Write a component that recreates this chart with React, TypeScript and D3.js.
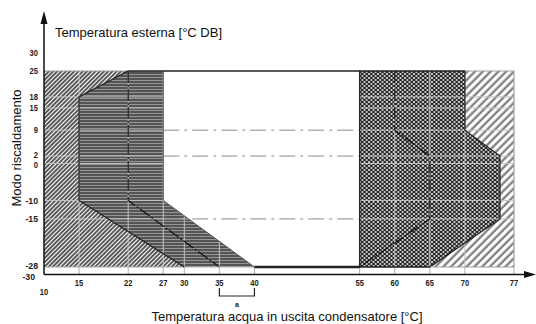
import React from "react";
import * as d3 from "d3";

// ---- data ----
const xTicks = [15, 22, 27, 30, 35, 40, 55, 60, 65, 70, 77];
const yTicks = [30, 25, 18, 15, 9, 2, 0, -10, -15, -28];
const gridY = [18, 15, 9, 2, 0, -10, -15];
const gridX = [15, 22, 27, 30, 35, 40, 60, 65, 70];
// operating envelope regions: [waterTemp, outdoorTemp]
const lowHatch: [number, number][] = [[10, 25], [22, 25], [15, 18], [15, -10], [30, -28], [10, -28]];
const stripeZone: [number, number][] = [[22, 25], [27, 25], [27, -10], [40, -28], [30, -28], [15, -10], [15, 18]];
const crossZone: [number, number][] = [[55, 25], [70, 25], [70, 9], [75, 2], [75, -15], [65, -28], [55, -28]];
const highHatch: [number, number][] = [[70, 25], [77, 25], [77, -28], [65, -28], [75, -15], [75, 2], [70, 9]];
const midLineLeft: [number, number][] = [[22, 25], [22, -10], [35, -28]];
const midLineRight: [number, number][] = [[60, 25], [60, 9], [65, 2], [65, -15], [55, -28]];
const stripeLeftEdge: [number, number][] = [[22, 25], [15, 18], [15, -10], [30, -28]];
const stripeRightEdge: [number, number][] = [[27, 25], [27, -10], [40, -28]];
const dashRefLines = [9, 2, -15];

export default function App() {
  const W = 536, H = 324;
  const x = d3.scaleLinear().domain([10, 77]).range([44, 514]);
  const y = d3.scaleLinear().domain([-28, 25]).range([267, 71]);
  const line = d3.line<[number, number]>().x(d => x(d[0])).y(d => y(d[1]));
  const poly = (p: [number, number][]) => line(p)! + "Z";
  const tickFont = "'Liberation Sans', Arial, sans-serif";
  const txtFont = "'Liberation Sans', Arial, sans-serif";
  const axisY = y(-30);
  const axisX = x(10);
  const tl = (v: number | string) => String(v).length * 4.2;
  const nudge = (v: number) => (v === 2 ? -1.5 : v === 0 ? 1.5 : v === -28 ? -1 : 0);

  return (
    <svg width={W} height={H} style={{ position: "absolute", left: 0, top: 0, background: "#fff" }}>
      <defs>
        <pattern id="hatchL" width="3" height="3" patternUnits="userSpaceOnUse" patternTransform="rotate(45)">
          <rect width="3" height="3" fill="#fff" />
          <line x1="1" y1="0" x2="1" y2="3" stroke="#222" strokeWidth="1.5" />
        </pattern>
        <pattern id="hatchR" width="5.5" height="5.5" patternUnits="userSpaceOnUse" patternTransform="rotate(45)">
          <rect width="5.5" height="5.5" fill="#fff" />
          <line x1="1.5" y1="0" x2="1.5" y2="5.5" stroke="#7a7a7a" strokeWidth="2.2" />
        </pattern>
        <pattern id="stripes" width="4" height="3" patternUnits="userSpaceOnUse">
          <rect width="4" height="3" fill="#969696" />
          <line x1="0" y1="1" x2="4" y2="1" stroke="#303030" strokeWidth="1.3" />
        </pattern>
        <pattern id="cross" width="4.5" height="4" patternUnits="userSpaceOnUse">
          <rect width="4.5" height="4" fill="#f4f4f4" />
          <line x1="0" y1="0" x2="4.5" y2="4" stroke="#1a1a1a" strokeWidth="1.25" />
          <line x1="4.5" y1="0" x2="0" y2="4" stroke="#1a1a1a" strokeWidth="1.25" />
        </pattern>
        <clipPath id="patClip">
          <path d={poly(lowHatch)} />
          <path d={poly(stripeZone)} />
          <path d={poly(crossZone)} />
          <path d={poly(highHatch)} />
        </clipPath>
      </defs>

      {/* regions */}
      <path d={poly(lowHatch)} fill="url(#hatchL)" />
      <path d={poly(stripeZone)} fill="url(#stripes)" />
      <path d={poly(crossZone)} fill="url(#cross)" />
      <path d={poly(highHatch)} fill="url(#hatchR)" />

      {/* light grid visible within patterned areas */}
      <g clipPath="url(#patClip)" stroke="#c4c4c4" strokeWidth={1}>
        {gridY.map(v => (
          <line key={"gy" + v} x1={x(10)} x2={x(77)} y1={y(v)} y2={y(v)} />
        ))}
        {gridX.map(v => (
          <line key={"gx" + v} x1={x(v)} x2={x(v)} y1={y(25)} y2={y(-28)} />
        ))}
      </g>
      {/* short tick lines between -28 and the axis */}
      <g stroke="#b0b0b0" strokeWidth={1}>
        {xTicks.map(v => (
          <line key={"tk" + v} x1={x(v)} x2={x(v)} y1={y(-28)} y2={axisY} />
        ))}
      </g>

      {/* dash-dot reference lines */}
      <g stroke="#8a8a8a" strokeWidth={1} strokeDasharray="16,5,3,5" fill="none">
        {dashRefLines.map(v => (
          <line key={"dr" + v} x1={x(27)} x2={x(55)} y1={y(v)} y2={y(v)} />
        ))}
      </g>
      <path d={line(midLineLeft)!} fill="none" stroke="#111" strokeWidth={1.2} strokeDasharray="12,2,2,2" />
      <path d={line(midLineRight)!} fill="none" stroke="#111" strokeWidth={1.2} strokeDasharray="12,2,2,2" />

      {/* outlines */}
      <line x1={x(10)} x2={x(22)} y1={y(25)} y2={y(25)} stroke="#9a9a9a" strokeWidth={1.2} />
      <line x1={x(10)} x2={x(40)} y1={y(-28)} y2={y(-28)} stroke="#a8a8a8" strokeWidth={1.2} />
      <path d={line(stripeLeftEdge)!} fill="none" stroke="#222" strokeWidth={1.3} />
      <path d={line(stripeRightEdge)!} fill="none" stroke="#555" strokeWidth={1} />
      <line x1={x(22)} x2={x(55)} y1={y(25)} y2={y(25)} stroke="#222" strokeWidth={1.6} />
      <line x1={x(40)} x2={x(55)} y1={y(-28)} y2={y(-28)} stroke="#222" strokeWidth={2.4} />
      <path d={poly(crossZone)} fill="none" stroke="#222" strokeWidth={1.3} />
      <path d={line([[70, 25], [77, 25], [77, -28], [65, -28]])!} fill="none" stroke="#a0a0a0" strokeWidth={1.2} />

      {/* axes */}
      <line x1={axisX} x2={axisX} y1={axisY} y2={20} stroke="#111" strokeWidth={1.5} />
      <path d={`M${axisX - 3.5},${24} L${axisX},${11} L${axisX + 3.5},${24} Z`} fill="#111" />
      <line x1={axisX} x2={528} y1={axisY} y2={axisY} stroke="#111" strokeWidth={1.5} />
      <path d={`M${524},${axisY - 3.5} L${536},${axisY} L${524},${axisY + 3.5} Z`} fill="#111" />

      {/* tick labels */}
      <g fontFamily={tickFont} fontWeight="bold" fontSize={9.5} fill="#222">
        {yTicks.map(v => (
          <text key={"yl" + v} x={38} y={y(v) + nudge(v)} dy="0.35em" textAnchor="end"
            textLength={tl(v)} lengthAdjust="spacingAndGlyphs">{v}</text>
        ))}
        <text x={35} y={axisY + 2.5} dy="0.35em" textAnchor="end" textLength={tl("-30")} lengthAdjust="spacingAndGlyphs">-30</text>
        {xTicks.map(v => (
          <text key={"xl" + v} x={x(v)} y={axisY + 8} dy="0.35em" textAnchor="middle"
            textLength={tl(v)} lengthAdjust="spacingAndGlyphs">{v}</text>
        ))}
        <text x={axisX} y={axisY + 17} dy="0.35em" textAnchor="middle" textLength={tl(10)} lengthAdjust="spacingAndGlyphs">10</text>
        <text x={(x(35) + x(40)) / 2} y={305} dy="0.35em" textAnchor="middle" fontSize={7}>a</text>
      </g>

      {/* bracket a */}
      <path d={`M${x(35)},288 V296 H${x(40)} V288`} fill="none" stroke="#222" strokeWidth={1.2} />

      {/* titles */}
      <text x={55} y={37} fontFamily={txtFont} fontSize={13} fill="#111">Temperatura esterna [°C DB]</text>
      <text x={287} y={321} textAnchor="middle" fontFamily={txtFont} fontSize={13} fill="#111">
        Temperatura acqua in uscita condensatore [°C]
      </text>
      <text transform={`translate(21,148) rotate(-90)`} textAnchor="middle" fontFamily={txtFont} fontSize={13} fill="#111">
        Modo riscaldamento
      </text>
    </svg>
  );
}
